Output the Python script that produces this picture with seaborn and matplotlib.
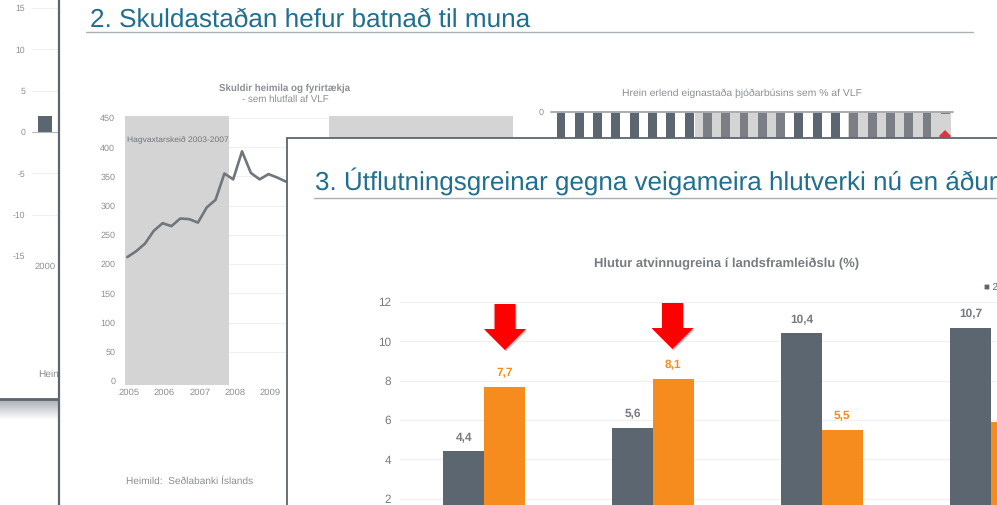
import matplotlib
matplotlib.use("Agg")
import matplotlib.pyplot as plt
from matplotlib.patches import Rectangle, Polygon
import pandas as pd
import seaborn as sns

W, H = 997, 505
SLATE = "#5b6670"
ORANGE = "#f78c1e"
TEAL = "#1f6f8f"
TEXT = "#8a8f94"
GRID = "#f0f0f0"
SPAN = "#d4d4d4"

# slide 1 (mostly covered)
left_ticks = [15, 10, 5, 0, -5, -10, -15]
left_years = ["2000"]
left_values = [1.9]

# slide 2, debt chart (quarterly, rest is covered by slide 3)
debt_ticks = [0, 50, 100, 150, 200, 250, 300, 350, 400, 450]
debt_years = ["2005", "2006", "2007", "2008", "2009"]
debt_values = [212, 222, 235, 257, 270, 265, 278, 277, 271, 297, 310, 355,
               345, 393, 356, 345, 354, 348, 341]

# slide 2, net foreign position (lower part of the bars is hidden)
nfp_values = [-60, -60, -60, -60, -60, -60, -60, -60, -60, -60, -60, -60,
              -60, -60, -60, -60, -60, -60, -60, -60, -60, -2]
nfp_shaded = [0, 0, 0, 0, 0, 0, 0, 0, 1, 1, 1, 1, 1, 0, 0, 0, 1, 1, 1, 1, 1, 1]
nfp_marker = [-24]

# slide 3, share of GDP
sector_ticks = [2, 4, 6, 8, 10, 12]
sector_groups = ["a", "b", "c", "d"]
sector_first = [4.4, 5.6, 10.4, 10.7]
sector_second = [7.7, 8.1, 5.5, 5.9]


def px_axes(x0, y0, x1, y1, z):
    ax = plt.gcf().add_axes([x0 / W, 1 - y1 / H, (x1 - x0) / W, (y1 - y0) / H], zorder=z)
    ax.patch.set_alpha(0)
    return ax


def layer(z):
    ax = px_axes(0, 0, W, H, z)
    ax.set_xlim(0, W)
    ax.set_ylim(H, 0)
    ax.axis("off")
    return ax


def clean(ax):
    sns.despine(ax=ax, left=True, bottom=True)
    ax.tick_params(length=0)
    ax.set_xlabel("")
    ax.set_ylabel("")


def shadow(ax, x0, x1, y, depth=19):
    for i in range(depth):
        ax.add_patch(Rectangle((x0, y + i), x1 - x0, 1, color=SLATE, lw=0, alpha=0.5 * (1 - i / depth)))


def draw_slide_one(fig):
    bg = layer(1)
    bg.add_patch(Rectangle((-5, -5), 70, 404, fc="white", ec=SLATE, lw=2.0))
    shadow(bg, 0, 60, 400)
    bg.text(38, 374, "Heimild", fontsize=7.3, color=TEXT, va="center")

    ax = px_axes(32, 8, 62, 256, 2)
    sns.barplot(x=left_years, y=left_values, color=SLATE, width=0.47, saturation=1, linewidth=0, ax=ax)
    ax.set_ylim(-15, 15)
    ax.set_xlim(-0.43, 0.57)
    ax.set_yticks(left_ticks)
    ax.grid(axis="y", color=GRID, lw=0.8)
    ax.set_axisbelow(True)
    ax.axhline(0, color="#b5b9bd", lw=0.8)
    ax.tick_params(axis="y", labelsize=6.2, labelcolor=TEXT, pad=5)
    ax.set_xticks([])
    clean(ax)
    bg.text(45, 267, left_years[0], fontsize=6.8, color=TEXT, ha="center", va="center", zorder=5)


def draw_debt_chart(bg):
    ax = px_axes(125, 118, 513, 381, 4)
    ax.axvspan(-0.26, 11.52, ymin=-0.015, ymax=1.008, color=SPAN, lw=0, zorder=1, clip_on=False)
    ax.axvspan(22.9, 43.7, ymin=-0.015, ymax=1.008, color=SPAN, lw=0, zorder=1, clip_on=False)
    quarters = list(range(len(debt_values)))
    sns.lineplot(x=quarters, y=debt_values, color="#6f767c", lw=1.9, ax=ax, zorder=3)
    ax.set_xlim(-0.26, 43.7)
    ax.set_ylim(0, 450)
    ax.set_yticks(debt_ticks)
    ax.set_xticks([i * 4 + 0.2 for i in range(len(debt_years))], debt_years)
    ax.grid(axis="y", color=GRID, lw=0.8)
    ax.grid(axis="x", visible=False)
    ax.set_axisbelow(True)
    ax.tick_params(axis="y", labelsize=6.5, labelcolor=TEXT, pad=7)
    ax.tick_params(axis="x", labelsize=6.8, labelcolor=TEXT, pad=5.5)
    clean(ax)
    ax.text(0.0, 412, "Hagvaxtarskeið 2003-2007", fontsize=6.1, color="#6f767c", va="center", zorder=4)

    bg.text(285, 88, "Skuldir heimila og fyrirtækja", fontsize=7.0, fontweight="bold", color=TEXT, ha="center", va="center")
    bg.text(285, 99, "- sem hlutfall af VLF", fontsize=7.0, color=TEXT, ha="center", va="center")
    bg.text(190, 481, "Heimild:  Seðlabanki Íslands", fontsize=7.3, color=TEXT, ha="center", va="center")


def draw_nfp_chart(bg):
    ax = px_axes(548, 112, 953, 212, 4)
    sns.barplot(x=list(range(len(nfp_values))), y=nfp_values, hue=nfp_shaded, dodge=False, legend=False,
                palette={0: SLATE, 1: "#7b7f85"}, width=0.49, saturation=1, linewidth=0, ax=ax, zorder=3)
    ax.set_xlim(-0.71, 21.42)
    ax.set_ylim(-100, 0)
    ax.axvspan(7.32, 12.24, color=SPAN, lw=0, zorder=1)
    ax.axvspan(15.68, 21.3, color=SPAN, lw=0, zorder=1)
    ax.axhline(0, xmin=0.007, color="#a9adb1", lw=1.4, zorder=4, clip_on=False)
    ax.plot([21], nfp_marker, marker="D", ms=6.6, mew=0, color="#d9363e", zorder=6)
    ax.set_yticks([0])
    ax.set_xticks([])
    ax.tick_params(labelsize=6.5, labelcolor=TEXT, pad=3)
    clean(ax)
    bg.text(742, 93.5, "Hrein erlend eignastaða þjóðarbúsins sem % af VLF", fontsize=7.5, color=TEXT, ha="center", va="center")


def draw_slide_two():
    bg = layer(3)
    bg.add_patch(Rectangle((59, -10), W, H + 30, fc="white", ec=SLATE, lw=1.6))
    bg.text(90, 20.5, "2. Skuldastaðan hefur batnað til muna", fontsize=18.8, color=TEAL, va="center")
    bg.plot([86, 973], [31.5, 31.5], color="#a9b0b6", lw=1.0)
    draw_debt_chart(bg)
    draw_nfp_chart(bg)


def red_arrow(ax, cx, top):
    pts = [(cx - 10.5, top), (cx + 10.5, top), (cx + 10.5, top + 25), (cx + 21, top + 25),
           (cx, top + 46), (cx - 21, top + 25), (cx - 10.5, top + 25)]
    ax.add_patch(Polygon([(x + 1, y + 1.5) for x, y in pts], fc="#999999", lw=0, alpha=0.6))
    ax.add_patch(Polygon(pts, fc="#ff0000", lw=0))


def draw_slide_three():
    bg = layer(5)
    bg.add_patch(Rectangle((286.5, 137.5), W, H, fc="white", ec=SLATE, lw=1.3))
    bg.text(315, 181, "3. Útflutningsgreinar gegna veigameira hlutverki nú en áður", fontsize=18.76, color=TEAL, va="center")
    bg.plot([314, 997], [197.5, 197.5], color="#a9b0b6", lw=1.0)
    bg.text(727, 263.5, "Hlutur atvinnugreina í landsframleiðslu (%)", fontsize=9.4, fontweight="bold", color="#777c82", ha="center", va="center")
    bg.text(984, 287.5, "■ 2", fontsize=7, color=SLATE, va="center")

    df = pd.DataFrame({
        "group": sector_groups * 2,
        "series": ["first"] * 4 + ["second"] * 4,
        "value": sector_first + sector_second,
    })
    ax = px_axes(399.5, 302, 1075.5, 538, 6)
    sns.barplot(data=df, x="group", y="value", hue="series", palette=[SLATE, ORANGE], width=0.48,
                saturation=1, linewidth=0, legend=False, ax=ax, zorder=3)
    ax.set_ylim(0, 12)
    ax.set_xlim(-0.5, 3.5)
    ax.set_yticks(sector_ticks)
    ax.set_xticks([])
    ax.grid(axis="y", color=GRID, lw=0.9)
    ax.set_axisbelow(True)
    ax.tick_params(axis="y", labelsize=8.5, labelcolor="#777c82", pad=6)
    clean(ax)

    for bars, colour in zip(ax.containers, ["#777c82", ORANGE]):
        labels = [f"{v:.1f}".replace(".", ",") for v in bars.datavalues]
        # the last orange label falls past the right edge of the picture
        if colour == ORANGE:
            labels[-1] = ""
        ax.bar_label(bars, labels=labels, padding=6, fontsize=8.6, fontweight="bold", color=colour)

    top = layer(7)
    red_arrow(top, 505, 304)
    red_arrow(top, 672.5, 303)


def main():
    sns.set_theme(style="white")
    plt.rcParams["font.family"] = ["Liberation Sans", "DejaVu Sans"]
    plt.rcParams["axes.unicode_minus"] = False
    plt.rcParams["text.hinting"] = "no_hinting"
    fig = plt.figure(figsize=(W / 100, H / 100), dpi=100)
    fig.patch.set_facecolor("white")
    draw_slide_one(fig)
    draw_slide_two()
    draw_slide_three()
    fig.savefig("out.png", dpi=100)
    plt.close(fig)


if __name__ == "__main__":
    main()
